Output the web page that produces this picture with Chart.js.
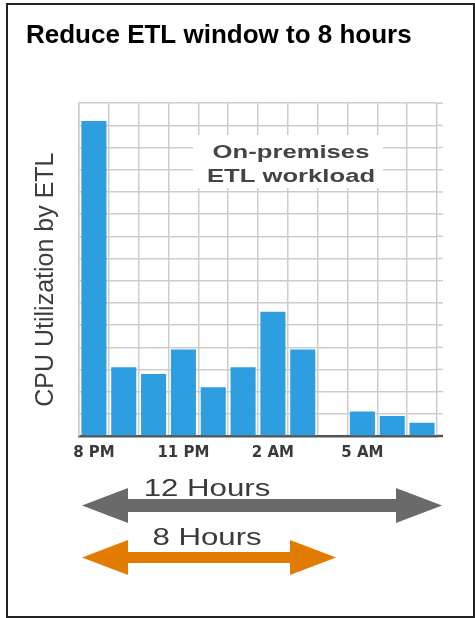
<!DOCTYPE html>
<html>
<head>
<meta charset="utf-8">
<script src="https://cdn.jsdelivr.net/npm/chart.js@4.4.1/dist/chart.umd.min.js"></script>
<style>
  html, body { margin: 0; padding: 0; background: #fff; }
  #frame {
    position: absolute; left: 6px; top: 3px;
    width: 465px; height: 611px;
    border: 2px solid #222;
  }
  #etlChart { position: absolute; left: 0; top: 0; }
</style>
</head>
<body>
<div id="frame"></div>
<canvas id="etlChart" width="475" height="618"></canvas>
<script>
// dados do grafico
const hours = ['8 PM', '9 PM', '10 PM', '11 PM', '12 AM', '1 AM', '2 AM', '3 AM', '4 AM', '5 AM', '6 AM', '7 AM'];
const cpuUsage = [14.2, 3.1, 2.8, 3.9, 2.2, 3.1, 5.6, 3.9, 0, 1.1, 0.9, 0.6];
const tickLabels = ['8 PM', '', '', '11 PM', '', '', '2 AM', '', '', '5 AM', '', ''];
const windows = ['12 Hours', '8 Hours'];
const yTitle = 'CPU Utilization by ETL';

// texto "esticado" na horizontal, como na imagem original
function stretchedText(ctx, text, cx, y, font, color, sx) {
    ctx.save();
    ctx.font = font;
    ctx.fillStyle = color;
    ctx.textAlign = 'center';
    ctx.textBaseline = 'alphabetic';
    ctx.translate(cx, y);
    ctx.scale(sx, 1);
    ctx.fillText(text, 0, 0);
    ctx.restore();
}

// seta dupla
function doubleArrow(ctx, x1, x2, cy, head, shaftHalf, headHalf, color) {
    ctx.save();
    ctx.fillStyle = color;
    ctx.beginPath();
    ctx.moveTo(x1, cy);
    ctx.lineTo(x1 + head, cy - headHalf);
    ctx.lineTo(x1 + head, cy - shaftHalf);
    ctx.lineTo(x2 - head, cy - shaftHalf);
    ctx.lineTo(x2 - head, cy - headHalf);
    ctx.lineTo(x2, cy);
    ctx.lineTo(x2 - head, cy + headHalf);
    ctx.lineTo(x2 - head, cy + shaftHalf);
    ctx.lineTo(x1 + head, cy + shaftHalf);
    ctx.lineTo(x1 + head, cy + headHalf);
    ctx.closePath();
    ctx.fill();
    ctx.restore();
}

const extras = {
    id: 'extras',
    beforeDatasetsDraw(chart) {
        // a grade passa um pouco da ultima coluna
        const ctx = chart.ctx;
        const area = chart.chartArea;
        const y = chart.scales.y;
        ctx.save();
        ctx.strokeStyle = '#cdcdcd';
        ctx.lineWidth = 1.5;
        y.ticks.forEach(t => {
            const py = y.getPixelForValue(t.value);
            ctx.beginPath();
            ctx.moveTo(area.right, py);
            ctx.lineTo(area.right + 6, py);
            ctx.stroke();
        });
        ctx.strokeStyle = '#555';
        ctx.lineWidth = 2.5;
        ctx.beginPath();
        ctx.moveTo(area.right, area.bottom);
        ctx.lineTo(area.right + 6, area.bottom);
        ctx.stroke();
        ctx.restore();
    },
    afterDraw(chart) {
        const ctx = chart.ctx;
        const area = chart.chartArea;

        // titulo do eixo y
        ctx.save();
        ctx.font = '25px "Liberation Sans"';
        ctx.fillStyle = '#3d3d3d';
        ctx.textAlign = 'center';
        ctx.textBaseline = 'alphabetic';
        ctx.translate(53, (area.top + area.bottom) / 2 + 10);
        ctx.rotate(-Math.PI / 2);
        ctx.fillText(yTitle, 0, 0);
        ctx.restore();

        // caixa "On-premises ETL workload"
        ctx.save();
        ctx.fillStyle = '#fff';
        ctx.fillRect(193, 135, 190, 53);
        ctx.restore();
        stretchedText(ctx, 'On-premises', 291, 158, 'bold 19px "Liberation Sans"', '#444', 1.35);
        stretchedText(ctx, 'ETL workload', 291, 182, 'bold 19px "Liberation Sans"', '#444', 1.35);

        // setas de 12 e 8 horas
        doubleArrow(ctx, 82, 442, 505.5, 46, 6.5, 17.5, '#6a6a6a');
        doubleArrow(ctx, 82, 336, 557.5, 46, 5.5, 17.5, '#e27c00');
        stretchedText(ctx, windows[0], 207, 496, '24px "Liberation Sans"', '#3a3a3a', 1.3);
        stretchedText(ctx, windows[1], 207, 545, '24px "Liberation Sans"', '#3a3a3a', 1.3);
    }
};

const config = {
    type: 'bar',
    data: {
        labels: hours,
        datasets: [{
            data: cpuUsage,
            backgroundColor: '#2d9ee0',
            borderWidth: 0,
            barPercentage: 0.84,
            categoryPercentage: 1.0
        }]
    },
    options: {
        responsive: false,
        animation: false,
        layout: {
            padding: { left: 26, right: 38, top: 0, bottom: 148 }
        },
        plugins: {
            legend: { display: false },
            tooltip: { enabled: false },
            title: {
                display: true,
                text: 'Reduce ETL window to 8 hours',
                align: 'start',
                color: '#000',
                font: { family: '"Liberation Sans"', weight: 'bold', size: 26 },
                padding: { top: 20, bottom: 52 }
            }
        },
        scales: {
            x: {
                grid: { color: '#cdcdcd', lineWidth: 1.5, drawTicks: false, offset: true },
                border: { color: '#555', width: 2.5 },
                ticks: {
                    autoSkip: false,
                    maxRotation: 0,
                    padding: 8,
                    color: '#3a3a3a',
                    font: { family: '"DejaVu Sans"', weight: 'bold', size: 15 },
                    callback: (value, index) => tickLabels[index]
                }
            },
            y: {
                min: 0,
                max: 15,
                ticks: { display: false, stepSize: 1 },
                grid: { color: '#cdcdcd', lineWidth: 1.5, drawTicks: false },
                border: { color: '#cdcdcd', width: 1.5 },
                afterFit(scale) { scale.width = 53; }
            }
        }
    },
    plugins: [extras]
};

const ctx = document.getElementById('etlChart').getContext('2d');
const chart = new Chart(ctx, config);
</script>
</body>
</html>
